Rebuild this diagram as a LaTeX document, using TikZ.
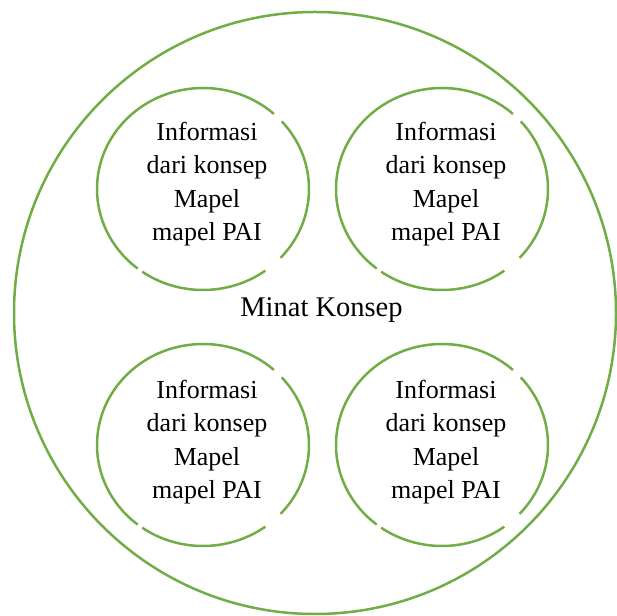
\documentclass[tikz,border=0pt]{standalone}
\usepackage{fontspec}
\setmainfont{Liberation Serif}
\usetikzlibrary{calc}
\definecolor{leaf}{HTML}{70AD47}
\begin{document}
\begin{tikzpicture}[x=1pt,y=1pt,
  ring/.style={draw=leaf,line width=2.5pt},
  infotext/.style={align=center,font=\fontsize{26}{33.5}\selectfont,inner sep=0pt},
  maintext/.style={font=\fontsize{28.5}{34}\selectfont,inner sep=0pt}]
\useasboundingbox (0,0) rectangle (617,615);
% outer circle
\coordinate (outer) at (315,302);
\draw[ring] (outer) circle[radius=301];
% inner circles with small gaps
\foreach \cx/\cy/\nm in {203/426/tl, 442/426/tr, 203/170/bl, 442/170/br}{
  \coordinate (\nm) at (\cx,\cy);
  \draw[ring] ($(\nm)+(48:106 and 101)$) arc[start angle=48,end angle=232,x radius=106,y radius=101];
  \draw[ring] ($(\nm)+(235:106 and 101)$) arc[start angle=235,end angle=306,x radius=106,y radius=101];
  \draw[ring] ($(\nm)+(317:106 and 101)$) arc[start angle=317,end angle=402,x radius=106,y radius=101];
}
\node[infotext] (ttl) at (207,431) {Informasi\\dari konsep\\Mapel\\mapel PAI};
\node[infotext] (ttr) at (446,431) {Informasi\\dari konsep\\Mapel\\mapel PAI};
\node[infotext] (tbl) at (207,173) {Informasi\\dari konsep\\Mapel\\mapel PAI};
\node[infotext] (tbr) at (446,173) {Informasi\\dari konsep\\Mapel\\mapel PAI};
\node[maintext] (minat) at (321.5,305) {Minat Konsep};
\end{tikzpicture}
\end{document}
